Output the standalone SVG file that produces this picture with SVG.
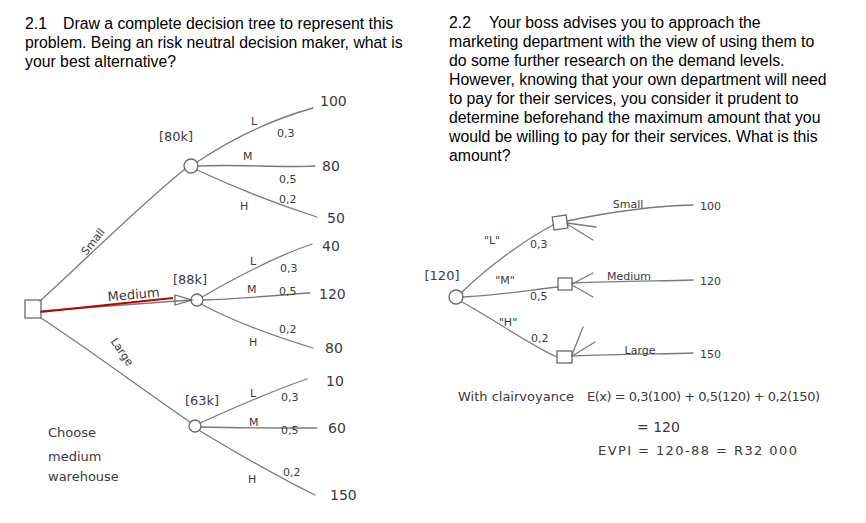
<svg xmlns="http://www.w3.org/2000/svg" width="866" height="523" viewBox="0 0 866 523">
<style>
.q{font-family:"Liberation Sans",Arial,sans-serif;font-size:15.8px;fill:#000}
.h{font-family:"DejaVu Sans","Liberation Sans",sans-serif;fill:#3a3a3a;font-size:13px}
.s{font-size:11px}
.v{font-size:14px}
.ln{fill:none;stroke:#7a7a7a;stroke-width:1.3;stroke-linecap:round}
.nd{fill:none;stroke:#6a6a6a;stroke-width:1.3}
</style>
<rect width="866" height="523" fill="#fff"/>
<g id="question-2-1">
<text class="q" x="25" y="29">2.1</text>
<text class="q" x="63" y="29">Draw a complete decision tree to represent this</text>
<text class="q" x="25" y="48">problem. Being an risk neutral decision maker, what is</text>
<text class="q" x="25" y="67">your best alternative?</text>
</g>
<g id="question-2-2">
<text class="q" x="449" y="28">2.2</text>
<text class="q" x="489" y="28">Your boss advises you to approach the</text>
<text class="q" x="449" y="47">marketing department with the view of using them to</text>
<text class="q" x="449" y="66">do some further research on the demand levels.</text>
<text class="q" x="449" y="85">However, knowing that your own department will need</text>
<text class="q" x="449" y="104">to pay for their services, you consider it prudent to</text>
<text class="q" x="449" y="123">determine beforehand the maximum amount that you</text>
<text class="q" x="449" y="142">would be willing to pay for their services. What is this</text>
<text class="q" x="449" y="161">amount?</text>
</g>
<g id="connectors">
<path class="ln" d="M40 301 C80 265 140 205 185 169"/>
<path class="ln" d="M41 311 L191 300"/>
<path d="M40 312 L173 298" fill="none" stroke="#c00000" stroke-width="2.2"/>
<path class="ln" d="M41 318 C90 350 150 395 190 422"/>
<path class="ln" d="M197 162 C230 140 270 120 313 108"/>
<path class="ln" d="M198 166 C240 164 280 168 315 166"/>
<path class="ln" d="M197 170 C240 190 280 205 317 217"/>
<path class="ln" d="M202 297 C240 275 280 255 312 244"/>
<path class="ln" d="M203 300 C240 299 280 295 310 293"/>
<path class="ln" d="M201 304 C240 325 280 338 313 348"/>
<path class="ln" d="M200 423 C240 405 280 388 307 379"/>
<path class="ln" d="M201 427 C240 428 280 428 317 428"/>
<path class="ln" d="M200 431 C240 455 280 478 315 495"/>
<path class="ln" d="M462 292 C490 265 525 240 553 225"/>
<path class="ln" d="M463 297 C495 296 530 290 558 287"/>
<path class="ln" d="M462 302 C495 320 530 345 557 357"/>
<path class="ln" d="M567 221 C610 212 650 206 693 205"/>
<path class="ln" d="M567 223 L596 227"/>
<path class="ln" d="M567 224 L593 240"/>
<path class="ln" d="M572 283 C620 281 660 281 693 280"/>
<path class="ln" d="M572 284 L593 273"/>
<path class="ln" d="M572 285 L593 297"/>
<path class="ln" d="M572 356 C620 354 660 354 693 353"/>
<path class="ln" d="M572 355 L583 327"/>
<path class="ln" d="M572 356 L595 342"/>
</g>
<g id="decision-root">
<rect class="nd" x="25" y="300" width="16" height="18"/>
</g>
<g id="chance-small">
<circle class="nd" cx="191" cy="166" r="7"/>
<text class="h" x="176" y="141" text-anchor="middle">[80k]</text>
<text class="h s" x="251" y="125">L</text>
<text class="h s" x="277" y="137">0,3</text>
<text class="h s" x="243" y="160">M</text>
<text class="h s" x="279" y="183">0,5</text>
<text class="h s" x="240" y="210">H</text>
<text class="h s" x="279" y="203">0,2</text>
<text class="h v" x="320" y="106">100</text>
<text class="h v" x="322" y="171">80</text>
<text class="h v" x="327" y="223">50</text>
</g>
<g id="chance-medium">
<path class="nd" d="M175 295 L175 305 L192 300 Z"/>
<circle class="nd" cx="197" cy="300" r="6"/>
<text class="h" x="190" y="284" text-anchor="middle">[88k]</text>
<text class="h s" x="250" y="265">L</text>
<text class="h s" x="280" y="272">0,3</text>
<text class="h s" x="247" y="293">M</text>
<text class="h s" x="279" y="295">0,5</text>
<text class="h s" x="249" y="346">H</text>
<text class="h s" x="279" y="333">0,2</text>
<text class="h v" x="322" y="251">40</text>
<text class="h v" x="319" y="299">120</text>
<text class="h v" x="325" y="353">80</text>
</g>
<g id="chance-large">
<circle class="nd" cx="195" cy="426" r="6"/>
<text class="h" x="202" y="405" text-anchor="middle">[63k]</text>
<text class="h s" x="250" y="397">L</text>
<text class="h s" x="281" y="401">0,3</text>
<text class="h s" x="249" y="426">M</text>
<text class="h s" x="281" y="434">0,5</text>
<text class="h s" x="248" y="483">H</text>
<text class="h s" x="283" y="476">0,2</text>
<text class="h v" x="326" y="386">10</text>
<text class="h v" x="328" y="433">60</text>
<text class="h v" x="330" y="500">150</text>
</g>
<g id="branch-labels">
<text class="h s" x="0" y="0" transform="translate(96,244) rotate(-52)" text-anchor="middle">Small</text>
<text class="h" x="0" y="0" transform="translate(134,299) rotate(-5)" text-anchor="middle">Medium</text>
<text class="h s" x="0" y="0" transform="translate(119,354) rotate(55)" text-anchor="middle">Large</text>
</g>
<g id="conclusion">
<text class="h" x="48" y="437">Choose</text>
<text class="h" x="48" y="461">medium</text>
<text class="h" x="48" y="481">warehouse</text>
</g>
<g id="chance-research">
<circle class="nd" cx="456" cy="297" r="7"/>
<text class="h" x="442" y="280" text-anchor="middle">[120]</text>
<text class="h s" x="492" y="244" text-anchor="middle">"L"</text>
<text class="h s" x="530" y="248">0,3</text>
<text class="h s" x="505" y="284" text-anchor="middle">"M"</text>
<text class="h s" x="530" y="300">0,5</text>
<text class="h s" x="508" y="326" text-anchor="middle">"H"</text>
<text class="h s" x="531" y="342">0,2</text>
</g>
<g id="decision-l">
<rect class="nd" x="553" y="216" width="14" height="13" transform="rotate(-8 560 222)"/>
<text class="h s" x="628" y="208" text-anchor="middle">Small</text>
<text class="h s" x="700" y="210">100</text>
</g>
<g id="decision-m">
<rect class="nd" x="558" y="278" width="14" height="12"/>
<text class="h s" x="629" y="280" text-anchor="middle">Medium</text>
<text class="h s" x="700" y="285">120</text>
</g>
<g id="decision-h">
<rect class="nd" x="557" y="351" width="15" height="12"/>
<text class="h s" x="640" y="354" text-anchor="middle">Large</text>
<text class="h s" x="700" y="358">150</text>
</g>
<g id="evpi">
<text class="h" x="458" y="401">With clairvoyance</text>
<text class="h" x="587" y="401" textLength="233" lengthAdjust="spacing">E(x) = 0,3(100) + 0,5(120) + 0,2(150)</text>
<text class="h v" x="637" y="432">= 120</text>
<text class="h" x="598" y="455" font-size="15" textLength="199" lengthAdjust="spacing">EVPI = 120-88 = R32 000</text>
</g>
</svg>
